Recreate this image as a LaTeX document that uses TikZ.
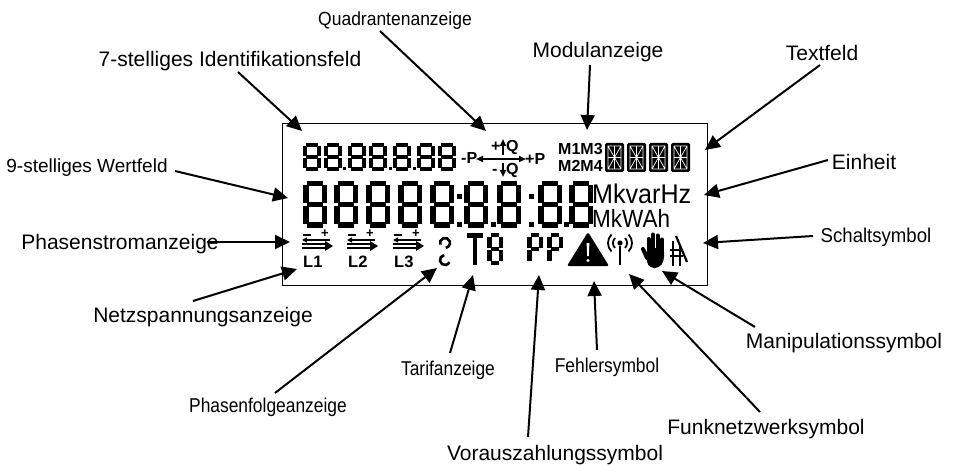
\documentclass[tikz,border=0pt]{standalone}
\usepackage{fontspec}
\setmainfont{Liberation Sans}
\usetikzlibrary{arrows.meta}
\newcommand\lcd[6]{%
 \begin{scope}[shift={(#1,#2)}]
 \pgfmathsetmacro\lw{#5}%
 \pgfmathsetmacro\xa{#5/2}\pgfmathsetmacro\xb{#3-#5/2}%
 \pgfmathsetmacro\ya{#5/2}\pgfmathsetmacro\yb{#4/2}\pgfmathsetmacro\yc{#4-#5/2}%
 \pgfmathsetmacro\gp{#5*0.3}%
 \foreach \sg in {#6}{\csname lcdseg\sg\endcsname}%
 \end{scope}}
\newcommand\lcdsega{\draw[line width=\lw pt] (\xa+\gp,\ya)--(\xb-\gp,\ya);}
\newcommand\lcdsegg{\draw[line width=\lw pt] (\xa+\gp,\yb)--(\xb-\gp,\yb);}
\newcommand\lcdsegd{\draw[line width=\lw pt] (\xa+\gp,\yc)--(\xb-\gp,\yc);}
\newcommand\lcdsegf{\draw[line width=\lw pt] (\xa,\ya+\gp)--(\xa,\yb-\gp);}
\newcommand\lcdsegb{\draw[line width=\lw pt] (\xb,\ya+\gp)--(\xb,\yb-\gp);}
\newcommand\lcdsege{\draw[line width=\lw pt] (\xa,\yb+\gp)--(\xa,\yc-\gp);}
\newcommand\lcdsegc{\draw[line width=\lw pt] (\xb,\yb+\gp)--(\xb,\yc-\gp);}
\newcommand\starseg[2]{%
 \begin{scope}[shift={(#1,#2)}]
 \fill[rounded corners=1.5pt] (0,0) rectangle (19,29);
 \draw[white,line width=0.7pt] (3,3) rectangle (16,26) (9.5,3)--(9.5,26) (3,14.5)--(16,14.5)
   (3,3)--(16,26) (16,3)--(3,26);
 \end{scope}}
\begin{document}
\begin{tikzpicture}[x=1pt,y=-1pt,
  lbl/.style={font=\fontsize{21}{24}\selectfont,inner sep=0pt,anchor=base},
  nlbl/.style={font=\fontsize{20}{24}\selectfont,inner sep=0pt,anchor=base},
  lead/.style={line width=2pt,-{Triangle[length=15pt,width=14pt]}},
  small/.style={font=\bfseries\fontsize{16}{16}\selectfont,inner sep=0pt,anchor=base west},
  sarr/.style={line width=1.8pt,-{Triangle[length=7pt,width=6pt]}}]
\path[use as bounding box] (0,0) rectangle (953,465);
% display frame
\node[draw,line width=1.2pt,minimum width=425pt,minimum height=162pt,inner sep=0pt,anchor=north west] (lcd) at (282,123) {};
% top row digits
\foreach \xx in {303,324,348,369,393,417,438}{\lcd{\xx}{143}{18}{28}{3.8}{a,b,c,d,e,f,g}}
\foreach \xx in {344,390,414}{\fill (\xx-1.5,167) rectangle (\xx+1.5,170.5);}
% quadrant symbol
\node[small] (mp) at (461,164) {-P};
\node[small] (pp) at (525,165) {+P};
\node[small] (pq) at (491,152) {+};
\node[small] (qq1) at (506,152) {Q};
\node[small] (mq) at (492,175) {-};
\node[small] (qq2) at (506,175) {Q};
\coordinate (qc) at (498,159);
\coordinate (qcl) at (476,159);
\coordinate (qcr) at (526,159);
\draw[sarr] (qc)--(qcl);
\draw[sarr] (qc)--(qcr);
\coordinate (qu0) at (503,155);\coordinate (qu1) at (503,139);
\coordinate (qd0) at (503,163);\coordinate (qd1) at (503,177);
\draw[sarr] (qu0)--(qu1);
\draw[sarr] (qd0)--(qd1);
% module
\node[small] (m13) at (558,155) {M1M3};
\node[small] (m24) at (558,172) {M2M4};
% text field
\foreach \xx in {605,627,649,671}{\starseg{\xx}{143}}
% main row digits
\foreach \xx in {303,334,366,398,430,464,497,538,569}{\lcd{\xx}{181}{24}{47}{5.5}{a,b,c,d,e,f,g}}
\foreach \xx in {459,531}{\fill (\xx-2.5,194) rectangle (\xx+2.5,199);\fill (\xx-2.5,222) rectangle (\xx+2.5,227);}
\foreach \xx in {493,566}{\fill (\xx-2.5,222) rectangle (\xx+2.5,227);}
% units
\node[inner sep=0pt,anchor=base west,font=\fontsize{27}{30}\selectfont] (u1) at (592,204) {\scalebox{0.93}[1]{MkvarHz}};
\node[inner sep=0pt,anchor=base west,font=\fontsize{25}{30}\selectfont] (u2) at (592,228) {\scalebox{0.9}[1]{MkWAh}};
% phase current symbols
\foreach \xx/\ll in {302/L1,347/L2,393/L3}{
  \draw[line width=1.4pt] (\xx+1,235)--(\xx+9,235);
  \node[inner sep=0pt,font=\bfseries\fontsize{13}{13}\selectfont] at (\xx+23,234) {+};
  \draw[line width=1.5pt,-{Triangle[length=5pt,width=5pt]}] (\xx+28,240)--(\xx,240);
  \draw[line width=1.2pt] (\xx,244)--(\xx+24,244) (\xx,248)--(\xx+24,248);
  \fill (\xx+23,241)--(\xx+31,246)--(\xx+23,251)--cycle;
  \node[inner sep=0pt,anchor=base west,font=\bfseries\fontsize{16.5}{18}\selectfont] at (\xx+1,267) {\ll};
}
% phase sequence
\draw[line width=2.6pt] (440.3,244.7) arc[start angle=200,end angle=-80,radius=5pt];
\draw[line width=2.6pt] (444.1,255.1) arc[start angle=100,end angle=335,radius=5pt];
% T8
\draw[line width=4.5pt] (467,235.5)--(483,235.5) (475,235)--(475,265);
\lcd{487}{233}{16}{32}{4.5}{a,b,c,d,e,f,g}
% PP
\lcd{527}{233}{16}{32}{4.5}{a,b,e,f,g}
\lcd{547}{233}{16}{32}{4.5}{a,b,e,f,g}
% warning triangle
\fill[rounded corners=1.5pt] (588,232)--(609,266)--(567,266)--cycle;
\fill[white] (586.6,243)--(589.4,243)--(588.8,256)--(587.2,256)--cycle;
\fill[white] (588,260.5) circle (1.7pt);
% antenna
\draw[line width=2.6pt] (620,246)--(620,265);
\fill (620,243) circle (2.6pt);
\draw[line width=1.8pt] (615,238) arc[start angle=135,end angle=225,radius=7pt];
\draw[line width=1.8pt] (611.5,234.5) arc[start angle=135,end angle=225,radius=12pt];
\draw[line width=1.8pt] (625,238) arc[start angle=45,end angle=-45,radius=7pt];
\draw[line width=1.8pt] (628.5,234.5) arc[start angle=45,end angle=-45,radius=12pt];
% hand
\foreach \fx/\ft in {648.5/239,653/234.5,657.5/235.5,662/239.5}{\draw[line width=4pt,line cap=round] (\fx,\ft)--(\fx,252);}
\fill[rounded corners=4pt] (646.5,248)--(664,248)--(664,261)--(659,268)--(650,268)--(646.5,262)--cycle;
\draw[line width=4pt,line cap=round] (643,249)--(647,258);
% switch symbol
\draw[line width=2.2pt] (673,241)--(673,266) (680,246)--(680,266);
\draw[line width=2.2pt] (670,250)--(683,250) (670,256)--(683,256);
\draw[line width=2.2pt] (676,236)--(687,262);
% labels
\node[lbl] (t1) at (230,67) {7-stelliges Identifikationsfeld};
\node[nlbl,font=\fontsize{19}{22}\selectfont] (t2) at (395,26) {\scalebox{0.92}[1]{Quadrantenanzeige}};
\node[lbl] (t3) at (598,58) {Modulanzeige};
\node[lbl] (t4) at (822,61) {Textfeld};
\node[lbl] (t5) at (864,170) {Einheit};
\node[nlbl] (t6) at (876,242) {\scalebox{0.93}[1]{Schaltsymbol}};
\node[lbl,font=\fontsize{19}{22}\selectfont] (t7) at (87,173) {9-stelliges Wertfeld};
\node[lbl] (t8) at (120,249) {Phasenstromanzeige};
\node[lbl] (t9) at (203,322) {Netzspannungsanzeige};
\node[nlbl] (t10) at (268,412) {\scalebox{0.87}[1]{Phasenfolgeanzeige}};
\node[nlbl] (t11) at (448,375) {\scalebox{0.87}[1]{Tarifanzeige}};
\node[lbl] (t12) at (555,460) {Vorauszahlungssymbol};
\node[nlbl] (t13) at (607,372) {\scalebox{0.87}[1]{Fehlersymbol}};
\node[lbl] (t14) at (766,434) {Funknetzwerksymbol};
\node[lbl] (t15) at (844,348) {Manipulationssymbol};
% leader start / tip coordinates
\coordinate (s1) at (238,72);  \coordinate (e1) at (302,131);
\coordinate (s2) at (380,31);  \coordinate (e2) at (486,131);
\coordinate (s3) at (590,65);  \coordinate (e3) at (587,130);
\coordinate (s4) at (820,65);  \coordinate (e4) at (705,150);
\coordinate (s5) at (828,160); \coordinate (e5) at (704,195);
\coordinate (s6) at (813,236); \coordinate (e6) at (703,243);
\coordinate (s7) at (175,171); \coordinate (e7) at (288,198);
\coordinate (s8) at (207,242); \coordinate (e8) at (290,242);
\coordinate (s9) at (193,301); \coordinate (e9) at (297,269);
\coordinate (s10) at (275,393); \coordinate (e10) at (437,268);
\coordinate (s11) at (450,353); \coordinate (e11) at (473,275);
\coordinate (s12) at (528,437); \coordinate (e12) at (539,275);
\coordinate (s13) at (597,350); \coordinate (e13) at (594,281);
\coordinate (s14) at (760,412); \coordinate (e14) at (629,274);
\coordinate (s15) at (755,327); \coordinate (e15) at (662,271);
\foreach \i in {1,...,15}{\draw[lead] (s\i)--(e\i);}
\end{tikzpicture}
\end{document}
